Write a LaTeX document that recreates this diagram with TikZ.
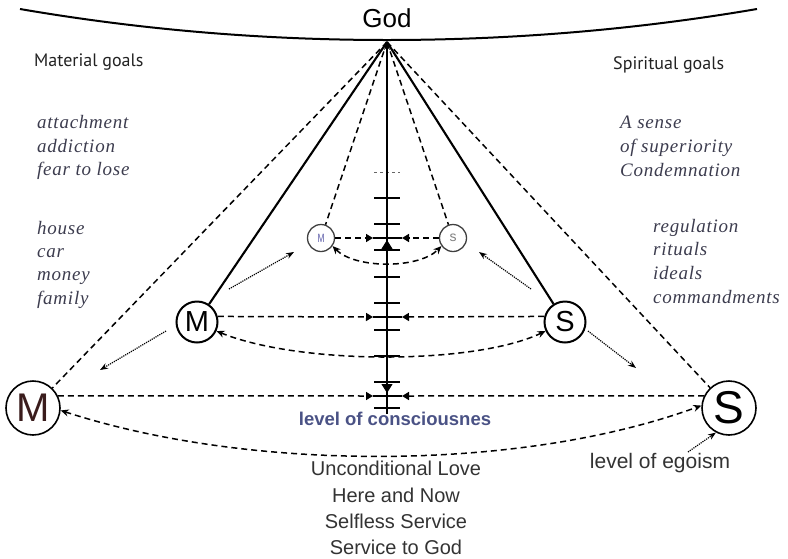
\documentclass[tikz,border=0pt]{standalone}
\usepackage{fontspec}
\setmainfont{Liberation Sans}
\newfontfamily\handfont{PT Sans}
\newfontfamily\listfont{Liberation Serif}[LetterSpace=4]
\usetikzlibrary{arrows.meta}
\definecolor{ink}{HTML}{222222}
\definecolor{listink}{HTML}{3C3C4E}
\definecolor{blueink}{HTML}{4A5285}
\definecolor{textgray}{HTML}{333333}
\definecolor{mred}{HTML}{3A1C1C}
\definecolor{smallblue}{HTML}{5C5CA8}
\begin{document}
\begin{tikzpicture}[x=1pt,y=-1pt,
  circbig/.style={circle, draw=black, line width=1.6pt, inner sep=0pt, minimum size=54pt},
  circmid/.style={circle, draw=black, line width=2pt, inner sep=0pt, minimum size=41pt, font=\fontsize{29}{29}\selectfont},
  circsmall/.style={circle, draw=black!75, line width=1.3pt, inner sep=0pt, minimum size=27pt},
  dsh/.style={dash pattern=on 6pt off 4pt, line width=1.5pt},
  dsharr/.style={dsh, -{Triangle[length=7pt,width=8pt]}},
  dshboth/.style={dsh, {Stealth[length=8pt,width=7pt]}-{Stealth[length=8pt,width=7pt]}},
  dotarr/.style={densely dotted, line width=1.2pt, -{Stealth[length=8pt,width=6pt]}},
  solidline/.style={line width=2.1pt},
  axisline/.style={line width=1.3pt},
  tickline/.style={line width=1.2pt},
  bar/.style={line width=2.6pt},
  headtri/.style={-{Triangle[length=9pt,width=11pt]}, line width=1pt},
  goaltext/.style={font=\handfont\fontsize{18}{18}\selectfont, text=ink, anchor=base west, inner sep=0pt},
  listtext/.style={font=\listfont\itshape\fontsize{19}{19}\selectfont, text=listink, anchor=base west, inner sep=0pt},
  bottomtext/.style={font=\fontsize{20}{20}\selectfont, text=textgray, anchor=base, inner sep=0pt}
]
\useasboundingbox (0,0) rectangle (788,558);

% top curve
\coordinate (C0) at (20,9);
\coordinate (CT) at (387,40);
\coordinate (C1) at (757,9);
\draw[line width=2pt] (C0) .. controls (142,30) and (265,40) .. (CT) .. controls (510,40) and (634,30) .. (C1);

\node[font=\fontsize{26}{26}\selectfont, anchor=base, inner sep=0pt] (god) at (387,27) {God};

% apex and axis
\coordinate (G) at (387,42);
\coordinate (B) at (387,414);

% nodes
\node[circbig, font=\fontsize{40}{40}\selectfont, text=mred] (BM) at (33,408) {M};
\node[circbig, font=\fontsize{46}{46}\selectfont] (BS) at (729,408) {S};
\node[circmid] (MM) at (197,322) {M};
\node[circmid] (MS) at (565,322) {S};
\node[circsmall, font=\fontsize{12}{12}\selectfont, text=smallblue] (SM) at (321,238) {\scalebox{0.7}[1]{M}};
\node[circsmall, font=\fontsize{14}{14}\selectfont, text=gray] (SS) at (453,238) {s};

% ticks on axis
\draw[dashed, line width=0.8pt, black!60] (374,172) -- (400,172);
\foreach \yy in {198,224,250,277,303,330,356,382,408}
  \draw[tickline] (374,\yy) -- (400,\yy);

\draw[axisline, -{Stealth[length=8pt,width=6pt]}] (B) -- (G);

% lines from God
\draw[solidline] (G) -- (MM);
\draw[solidline] (G) -- (MS);
\draw[dsh] (G) -- (BM);
\draw[dsh] (G) -- (BS);
\draw[dsh] (G) -- (SM);
\draw[dsh] (G) -- (SS);

% horizontal arrows to axis
\coordinate (L1) at (373,238); \coordinate (R1) at (402,238);
\coordinate (L2) at (373,317); \coordinate (R2) at (402,317);
\coordinate (L3) at (373,396); \coordinate (R3) at (402,396);
\draw[dsharr] (SM) -- (L1);
\draw[dsharr] (SS) -- (R1);
\draw[bar] (L1) -- (R1);
\draw[dsharr] (MM.15) -- (L2);
\draw[dsharr] (MS.165) -- (R2);
\draw[bar] (L2) -- (R2);
\draw[dsharr] (BM.26) -- (L3);
\draw[dsharr] (BS.154) -- (R3);
\draw[bar] (L3) -- (R3);

% small arrowheads on the axis
\coordinate (U0) at (387,252); \coordinate (U1) at (387,240);
\coordinate (D0) at (387,381); \coordinate (D1) at (387,393);
\draw[headtri] (U0) -- (U1);
\draw[headtri] (D0) -- (D1);

% curved double arrows
\draw[dshboth] (SM.-35) .. controls (355,269) and (419,269) .. (SS.-145);
\draw[dshboth] (MM.-25) .. controls (300,365) and (474,365) .. (MS.-155);
\draw[dshboth] (BM.-5) .. controls (250,472) and (520,472) .. (BS.175);

% dotted arrows
\coordinate (d1a) at (229,289); \coordinate (d1b) at (294,252);
\coordinate (d2a) at (531,289); \coordinate (d2b) at (479,252);
\coordinate (d3a) at (166,331); \coordinate (d3b) at (100,370);
\coordinate (d4a) at (588,331); \coordinate (d4b) at (636,368);
\coordinate (e1) at (688,452);
\draw[dotarr] (d1a) -- (d1b);
\draw[dotarr] (d2a) -- (d2b);
\draw[dotarr] (d3a) -- (d3b);
\draw[dotarr] (d4a) -- (d4b);
\draw[dotarr] (e1) -- (BS.-118);

% texts left
\node[goaltext] (matg) at (34,66) {Material goals};
\node[listtext] (l1) at (37,128) {attachment};
\node[listtext] (l2) at (37,152) {addiction};
\node[listtext] (l3) at (37,175) {fear to lose};
\node[listtext] (h1) at (37,234) {house};
\node[listtext] (h2) at (37,257) {car};
\node[listtext] (h3) at (37,280) {money};
\node[listtext] (h4) at (37,304) {family};

% texts right
\node[goaltext] (spg) at (613,69) {Spiritual goals};
\node[listtext] (r1) at (620,128) {A sense};
\node[listtext] (r2) at (620,152) {of superiority};
\node[listtext] (r3) at (620,176) {Condemnation};
\node[listtext] (q1) at (653,232) {regulation};
\node[listtext] (q2) at (653,255) {rituals};
\node[listtext] (q3) at (653,279) {ideals};
\node[listtext] (q4) at (653,303) {commandments};

% bottom texts
\node[font=\bfseries\fontsize{18.5}{18.5}\selectfont, text=blueink, anchor=base, inner sep=0pt] (loc) at (395,425) {level of consciousnes};
\node[bottomtext] (b1) at (396,475) {Unconditional Love};
\node[bottomtext] (b2) at (396,502) {Here and Now};
\node[bottomtext] (b3) at (396,528) {Selfless Service};
\node[bottomtext] (b4) at (396,554) {Service to God};
\node[bottomtext, font=\fontsize{21}{21}\selectfont] (ego) at (660,468) {level of egoism};
\end{tikzpicture}
\end{document}
